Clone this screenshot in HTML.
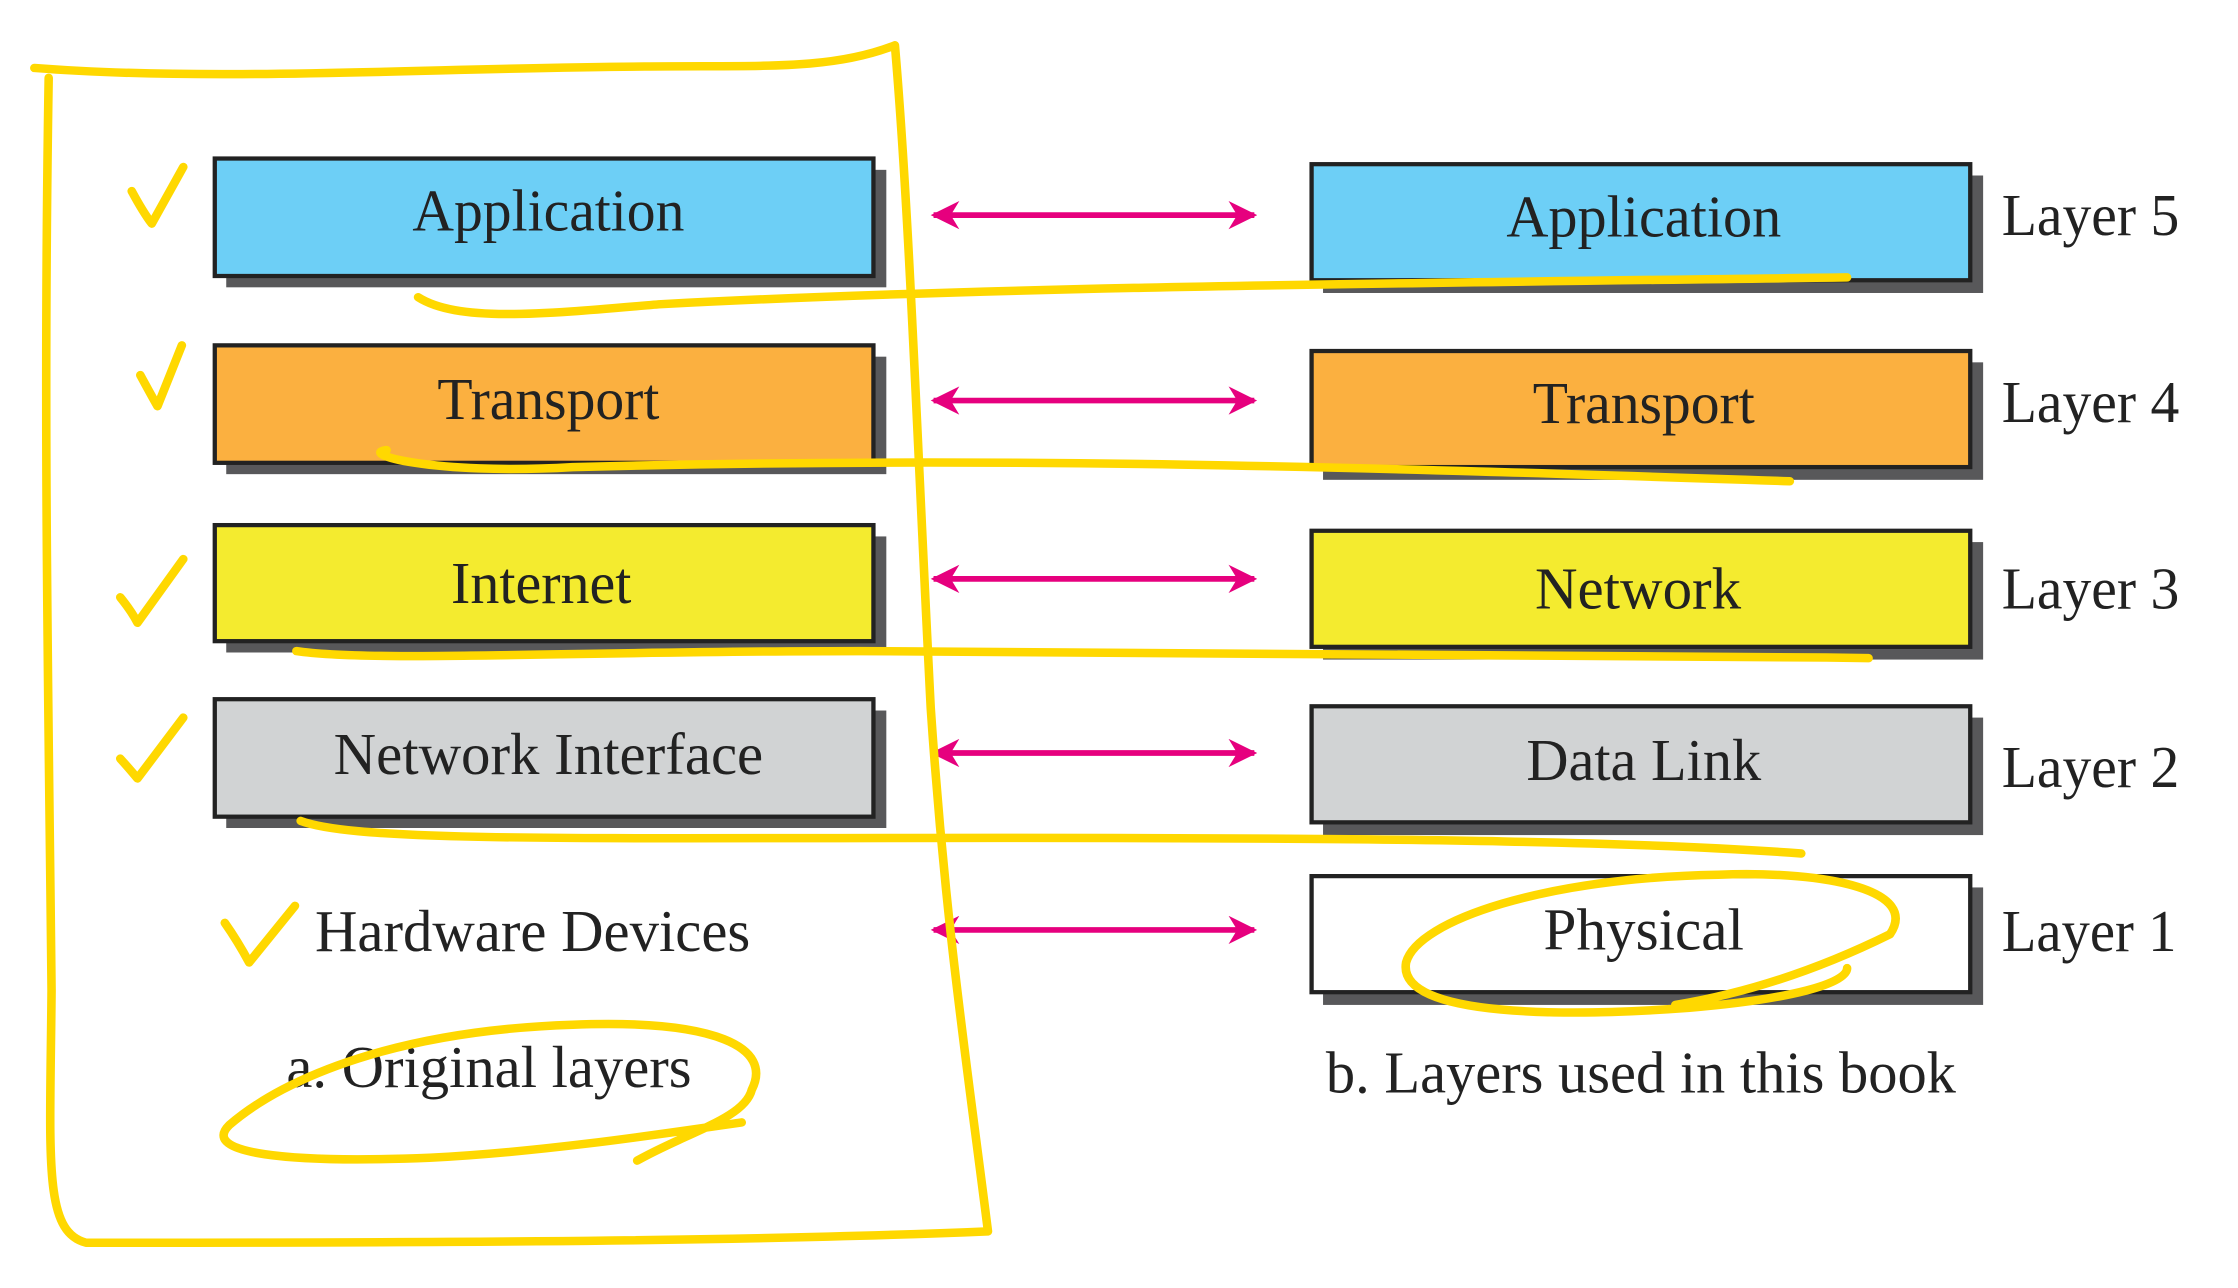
<!DOCTYPE html>
<html><head><meta charset="utf-8"><style>
html,body{margin:0;padding:0;background:#fff;}
svg{display:block;}
text{font-family:"Liberation Serif",serif;fill:#222;}
</style></head><body>
<svg width="2238" height="1288" viewBox="0 0 1563 910" preserveAspectRatio="none" xmlns="http://www.w3.org/2000/svg">
<defs>
<marker id="ah" viewBox="0 0 10 10" refX="9" refY="5" markerWidth="5" markerHeight="5" orient="auto-start-reverse">
<path d="M0,0 L10,5 L0,10 L3,5 Z" fill="#e6007e"/></marker>
</defs>
<g stroke="#222" stroke-width="3">
<rect x="158" y="120" width="461" height="83" fill="#58585a" stroke="none"/>
<rect x="150" y="112" width="460" height="83" fill="#6dcff6"/>
<rect x="158" y="252" width="461" height="83" fill="#58585a" stroke="none"/>
<rect x="150" y="244" width="460" height="83" fill="#fbb040"/>
<rect x="158" y="379" width="461" height="82" fill="#58585a" stroke="none"/>
<rect x="150" y="371" width="460" height="82" fill="#f4eb2f"/>
<rect x="158" y="502" width="461" height="83" fill="#58585a" stroke="none"/>
<rect x="150" y="494" width="460" height="83" fill="#d1d3d4"/>
<rect x="924" y="124" width="461" height="83" fill="#58585a" stroke="none"/>
<rect x="916" y="116" width="460" height="82" fill="#6dcff6"/>
<rect x="924" y="256" width="461" height="83" fill="#58585a" stroke="none"/>
<rect x="916" y="248" width="460" height="82" fill="#fbb040"/>
<rect x="924" y="383" width="461" height="83" fill="#58585a" stroke="none"/>
<rect x="916" y="375" width="460" height="82" fill="#f4eb2f"/>
<rect x="924" y="507" width="461" height="83" fill="#58585a" stroke="none"/>
<rect x="916" y="499" width="460" height="82" fill="#d1d3d4"/>
<rect x="924" y="627" width="461" height="83" fill="#58585a" stroke="none"/>
<rect x="916" y="619" width="460" height="82" fill="#fff"/>
</g>
<g stroke="#e6007e" stroke-width="4" marker-start="url(#ah)" marker-end="url(#ah)">
<line x1="652" y1="152" x2="876" y2="152"/>
<line x1="652" y1="283" x2="876" y2="283"/>
<line x1="652" y1="409" x2="876" y2="409"/>
<line x1="652" y1="532" x2="876" y2="532"/>
<line x1="652" y1="657" x2="876" y2="657"/>
</g>
<g font-size="42" text-anchor="middle">
<text x="383" y="163" textLength="190" lengthAdjust="spacingAndGlyphs">Application</text>
<text x="383" y="296" textLength="155" lengthAdjust="spacingAndGlyphs">Transport</text>
<text x="378" y="426" textLength="126" lengthAdjust="spacingAndGlyphs">Internet</text>
<text x="383" y="547" textLength="300" lengthAdjust="spacingAndGlyphs">Network Interface</text>
<text x="1148" y="167" textLength="192" lengthAdjust="spacingAndGlyphs">Application</text>
<text x="1148" y="299" textLength="155" lengthAdjust="spacingAndGlyphs">Transport</text>
<text x="1144" y="430" textLength="144" lengthAdjust="spacingAndGlyphs">Network</text>
<text x="1148" y="551" textLength="164" lengthAdjust="spacingAndGlyphs">Data Link</text>
<text x="1148" y="671" textLength="140" lengthAdjust="spacingAndGlyphs">Physical</text>
</g>
<g font-size="42">
<text x="1398" y="166" textLength="124" lengthAdjust="spacingAndGlyphs">Layer 5</text>
<text x="1398" y="298" textLength="124" lengthAdjust="spacingAndGlyphs">Layer 4</text>
<text x="1398" y="430" textLength="124" lengthAdjust="spacingAndGlyphs">Layer 3</text>
<text x="1398" y="556" textLength="124" lengthAdjust="spacingAndGlyphs">Layer 2</text>
<text x="1398" y="672" textLength="122" lengthAdjust="spacingAndGlyphs">Layer 1</text>
<text x="220" y="672" textLength="304" lengthAdjust="spacingAndGlyphs">Hardware Devices</text>
<text x="200" y="768" textLength="283" lengthAdjust="spacingAndGlyphs">a. Original layers</text>
<text x="926" y="772" textLength="440" lengthAdjust="spacingAndGlyphs">b. Layers used in this book</text>
</g>
<g fill="none" stroke="#ffd800" stroke-width="6" stroke-linecap="round" stroke-linejoin="round">
<path d="M24,48 C150,58 300,48 450,47 C530,46 580,50 625,32 C635,150 640,300 650,500 C660,650 675,750 690,870 C500,878 250,878 60,878 C30,870 35,820 36,700 C34,500 30,300 34,55"/>
<path d="M92,135 Q100,150 106,158 L128,118"/>
<path d="M98,265 Q106,280 110,287 L127,244"/>
<path d="M84,422 Q92,432 96,440 L128,395"/>
<path d="M84,536 Q92,545 96,550 L128,507"/>
<path d="M157,652 Q166,665 174,680 L206,640"/>
<path d="M292,210 C320,228 380,222 460,215 C700,202 1000,200 1290,196"/>
<path d="M270,318 C250,320 300,336 400,330 C700,322 950,330 1250,340"/>
<path d="M207,460 C260,468 400,460 600,460 C900,460 1100,462 1305,465"/>
<path d="M210,580 C250,595 400,592 700,592 C1000,592 1150,595 1258,603"/>
<path d="M1170,710 C1230,700 1280,680 1320,660 C1340,630 1280,615 1200,618 C1080,620 990,650 982,680 C975,720 1100,718 1180,712 C1250,706 1290,695 1290,684"/>
<path d="M445,820 C480,800 520,790 525,770 C540,740 500,720 400,724 C280,728 200,760 160,795 C140,815 200,822 300,818 C380,814 470,800 518,793"/>
</g>
</svg>
</body></html>
